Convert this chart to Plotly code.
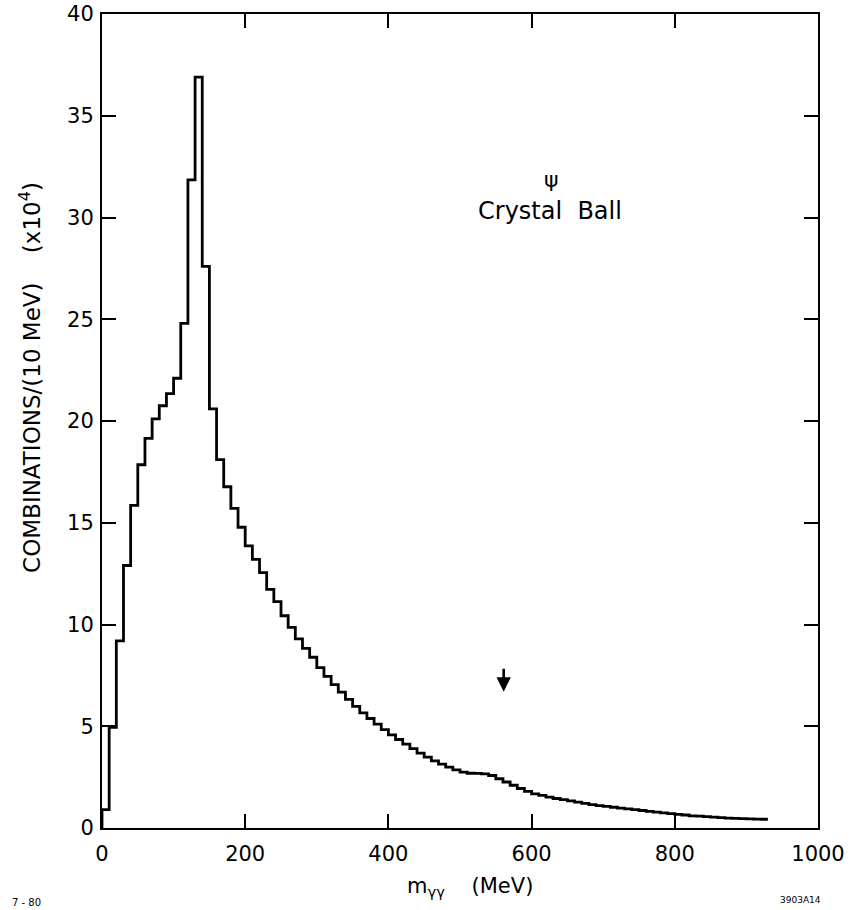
import plotly.graph_objects as go

# Two-photon invariant mass spectrum, 10 MeV bins from 0 to 930 MeV
bin_width = 10
counts = [
    0.9, 4.95, 9.2, 12.9, 15.85, 17.85, 19.15, 20.1, 20.75, 21.35,
    22.1, 24.8, 31.85, 36.9, 27.6, 20.6, 18.1, 16.77, 15.71, 14.78,
    13.86, 13.2, 12.55, 11.73, 11.12, 10.43, 9.86, 9.29, 8.83, 8.39,
    7.88, 7.45, 7.05, 6.68, 6.32, 5.98, 5.66, 5.38, 5.1, 4.83,
    4.58, 4.35, 4.12, 3.9, 3.68, 3.48, 3.3, 3.14, 2.99, 2.86,
    2.75, 2.69, 2.68, 2.66, 2.58, 2.42, 2.26, 2.1, 1.94, 1.8,
    1.68, 1.6, 1.52, 1.45, 1.39, 1.33, 1.27, 1.21, 1.15, 1.1,
    1.06, 1.02, 0.98, 0.94, 0.9, 0.86, 0.82, 0.78, 0.74, 0.71,
    0.67, 0.64, 0.6, 0.58, 0.56, 0.53, 0.51, 0.49, 0.47, 0.46,
    0.45, 0.44, 0.43,
]
edges = [i * bin_width for i in range(len(counts) + 1)]

x_ticks = [0, 200, 400, 600, 800, 1000]
y_ticks = [0, 5, 10, 15, 20, 25, 30, 35, 40]

# eta marker position and arrow extent (MeV, x10^4 combinations)
eta_mass = 561
eta_arrow = (7.9, 6.7)

# step outline: rise at the first edge, flat tops, end at the last edge
step_x = [edges[0]] + edges[:-1] + [edges[-1]]
step_y = [0] + counts + [counts[-1]]

FONT = "DejaVu Sans"

fig = go.Figure()
fig.add_trace(go.Scatter(
    x=step_x, y=step_y, mode="lines",
    line=dict(color="black", width=2.8, shape="hv"),
    hoverinfo="skip", showlegend=False,
))

axis_common = dict(
    showline=True, linecolor="black", linewidth=2,
    mirror="allticks", ticks="inside", ticklen=14, tickwidth=1.6,
    tickcolor="black", showgrid=False, zeroline=False, automargin=False,
    tickfont=dict(family=FONT, size=21, color="black"),
)

fig.update_xaxes(range=[0, 1000], tickvals=x_ticks,
                 ticklabelstandoff=6, **axis_common)
fig.update_yaxes(range=[0, 40], tickvals=y_ticks,
                 ticklabelstandoff=2, **axis_common)


def label(text, x, y, size, ref="paper", **kw):
    return dict(x=x, y=y, xref=ref, yref=ref, text=text, showarrow=False,
                xanchor="center", yanchor="middle",
                font=dict(family=FONT, size=size, color="black"), **kw)


annotations = [
    # eta arrow
    dict(x=eta_mass, y=eta_arrow[1], ax=eta_mass, ay=eta_arrow[0],
         xref="x", yref="y", axref="x", ayref="y", text="",
         showarrow=True, arrowhead=2, arrowsize=1.1, arrowwidth=2.6,
         arrowcolor="black"),
    label("ψ", 628, 31.85, 22, ref="x") | dict(yref="y"),
    label("Crystal  Ball", 625, 30.3, 24, ref="x") | dict(yref="y"),
    label("COMBINATIONS/(10 MeV)    (x10<sup>4</sup>)", -0.1005, 0.553, 23,
          textangle=-90),
    label("m<sub>γγ</sub>    (MeV)", 0.514, -0.0725, 21),
    label("7 - 80", -0.1061, -0.0921, 10),
    label("3903A14", 0.975, -0.0885, 9),
]

fig.update_layout(
    width=853, height=910,
    margin=dict(l=102, r=35, t=14, b=82),
    paper_bgcolor="white", plot_bgcolor="white",
    annotations=annotations,
    showlegend=False,
)

fig.write_html("out.html")
